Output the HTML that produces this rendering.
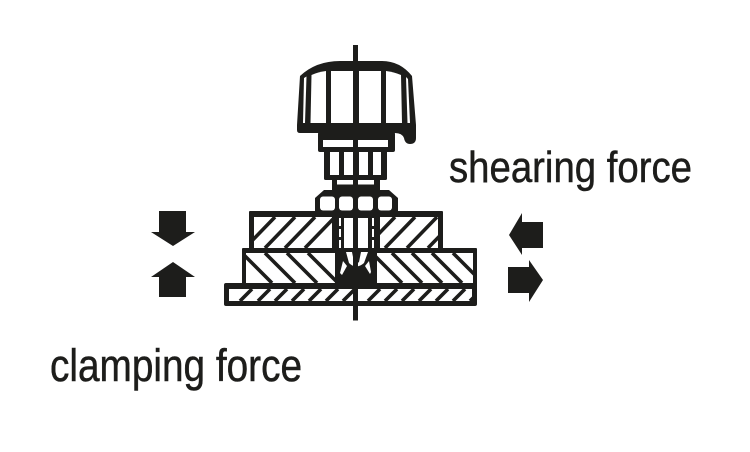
<!DOCTYPE html>
<html><head><meta charset="utf-8"><style>
html,body{margin:0;padding:0;background:#fff}
svg{display:block}
text{font-family:"Liberation Sans",sans-serif;fill:#1d1d1b;stroke:#1d1d1b;stroke-width:.5}
</style></head><body>
<svg width="750" height="452" viewBox="0 0 750 452" xmlns="http://www.w3.org/2000/svg">
<defs>
<clipPath id="p1"><rect x="254" y="217" width="184" height="31"/></clipPath>
<clipPath id="p2"><rect x="246" y="253" width="227" height="30"/></clipPath>
<clipPath id="p3"><rect x="229" y="289" width="243" height="12"/></clipPath>
</defs>
<rect width="750" height="452" fill="#fff"/>
<!-- plates -->
<g fill="#1d1d1b">
<rect x="249" y="211" width="194" height="42" rx="1"/>
<rect x="242" y="248" width="235" height="41" rx="1"/>
<rect x="224" y="283" width="253" height="23" rx="2"/>
</g>
<g fill="#fff">
<rect x="254" y="217" width="184" height="31"/>
<rect x="246" y="253" width="227" height="30"/>
<rect x="229" y="289" width="243" height="12"/>
</g>
<g fill="none" stroke="#1d1d1b" stroke-width="3.600" stroke-linecap="butt">
<path clip-path="url(#p1)" d="M245 248L275 217M265 248L295 217M285 248L315 217M305 248L335 217M365 248L395 217M385 248L415 217M407 248L437 217M428 248L458 217"/>
<path clip-path="url(#p2)" d="M242 253L272 283M265 253L295 283M287 253L317 283M308 253L338 283M372 253L402 283M392 253L422 283M412 253L442 283M432 253L462 283M453 253L483 283"/>
<path clip-path="url(#p3)" d="M240 301L252 289M258 301L270 289M275 301L287 289M292 301L304 289M309 301L321 289M326 301L338 289M343 301L355 289M368 301L380 289M385 301L397 289M402 301L414 289M419 301L431 289M436 301L448 289M453 301L465 289M470 301L482 289"/>
</g>
<!-- core -->
<g fill="#1d1d1b">
<rect x="332" y="214" width="48" height="36"/>
<rect x="335" y="248" width="42" height="36"/>
</g>
<g fill="#fff">
<rect x="344" y="218" width="9" height="30"/>
<rect x="358" y="218" width="10" height="30"/>
<path d="M339 218h2v8h-2zM339 229h2v8h-2zM339 240h2v8h-2zM372 218h2v8h-2zM372 229h2v8h-2zM372 240h2v8h-2z"/>
<path d="M346 252H352L354 262Q356 265 359 262L361 252H368L364 263Q356 270 349 263Z"/>
<path d="M343 261L347 266L342 275L340 273ZM369 261L365 266L370 274L371 272Z"/>
</g>
<!-- nut -->
<path fill="#1d1d1b" d="M315 216V198L324 190H389L398 198V216Z"/>
<g fill="#fff">
<rect x="320" y="196.500" width="15" height="14" rx="3"/>
<rect x="339" y="196.500" width="14" height="14" rx="3"/>
<rect x="358" y="196.500" width="15" height="14" rx="3"/>
<rect x="378" y="196.500" width="14" height="14" rx="3"/>
</g>
<!-- neck -->
<rect x="332" y="178" width="48" height="13" fill="#1d1d1b"/>
<rect x="337" y="180" width="16" height="4.500" fill="#fff"/>
<rect x="358" y="180" width="16" height="4.500" fill="#fff"/>
<!-- hex -->
<rect x="324" y="150" width="63" height="30" rx="1.500" fill="#1d1d1b"/>
<g fill="#fff">
<rect x="330" y="152" width="9" height="23"/>
<rect x="344" y="152" width="9" height="23"/>
<rect x="359" y="152" width="9" height="23"/>
<rect x="373" y="152" width="8" height="23"/>
</g>
<!-- collar -->
<rect x="318" y="132" width="77" height="20" rx="2" fill="#1d1d1b"/>
<rect x="323" y="140" width="65" height="7" fill="#fff"/>
<!-- knob -->
<path fill="#1d1d1b" d="M297 130V125L300 76Q316 61 340 61H382Q400 61 412 76L416 125V138Q416 144 410 144Q405 144 404 138Q402 133 395 133H300Q297 133 297 130Z"/>
<g fill="#fff">
<path d="M304 78L306.500 76.500L305 123H303Z"/>
<path d="M311.500 75Q318 72 326 71V123H310.500Z"/>
<path d="M331 71H353V123H331Z"/>
<path d="M359 71H381V123H359Z"/>
<path d="M386 71Q394 72 401 75L402 123H386Z"/>
<path d="M406 77L408 79L410 123H407.500Z"/>
</g>
<!-- centre line -->
<g stroke="#1d1d1b" stroke-width="5" fill="none">
<path d="M355.500 45V82"/>
<path d="M355.500 87V100"/>
<path d="M355.500 105V320.500"/>
</g>
<!-- arrows -->
<g fill="#1d1d1b">
<path d="M159 211H186V232H195L173 246L151 232H159Z"/>
<path d="M159 297H186V277H195L173 262L151 277H159Z"/>
<path d="M543 222H522V213L509 235L522 255V248H543Z"/>
<path d="M508 267H529V260L543 280L529 302V293H508Z"/>
</g>
<!-- labels -->
<text x="449" y="182" font-size="44" textLength="243" lengthAdjust="spacingAndGlyphs">shearing force</text>
<text x="50" y="381" font-size="45" textLength="252" lengthAdjust="spacingAndGlyphs">clamping force</text>
</svg>
</body></html>
